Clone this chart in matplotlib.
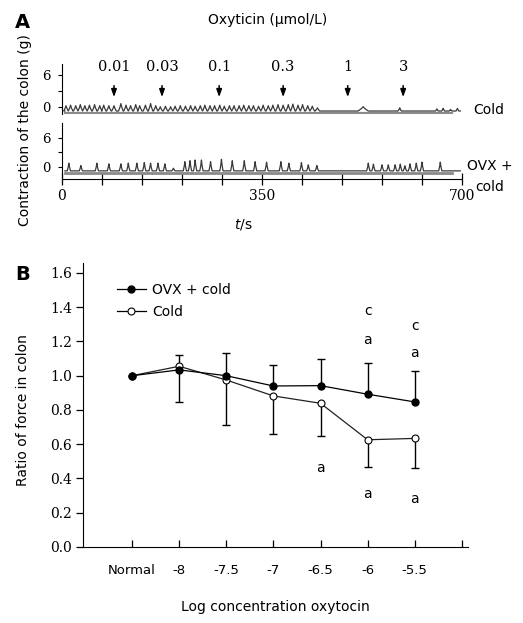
import matplotlib
matplotlib.use("Agg")
import matplotlib.pyplot as plt
import numpy as np
from matplotlib.lines import Line2D

plt.rcParams['font.family'] = ['DejaVu Sans']

# ---------------- data ----------------
# Panel A: trace peaks (time in s, amplitude in g above the trace floor)
conc_labels = ["0.01", "0.03", "0.1", "0.3", "1", "3"]
conc_times = [91, 175, 275, 387, 500, 597]

cold_peak_t = [7, 15, 24, 32, 40, 48, 57, 66, 73, 82, 91, 103, 112, 120, 129, 136, 146, 155, 164, 172,
               181, 190, 198, 207, 216, 225, 233, 242, 250, 259, 267, 276, 284, 293, 301, 310, 318, 327, 335, 344,
               352, 361, 369, 378, 387, 396, 404, 413, 421, 430, 438, 447, 527, 591, 656, 667, 680, 692]
cold_peak_amp = [1.0, 1.1, 1.0, 1.2, 1.0, 1.1, 1.2, 1.0, 1.1, 1.0, 1.0, 1.4, 1.1, 1.0, 1.2, 1.0, 1.1, 1.4, 1.0, 0.8,
                 0.9, 0.8, 0.9, 1.0, 0.9, 1.0, 0.9, 1.0, 1.1, 1.0, 1.0, 1.1, 0.9, 1.0, 1.0, 1.0, 1.1, 1.0, 1.0, 0.9,
                 1.1, 1.0, 1.1, 1.2, 1.1, 1.2, 1.3, 1.1, 1.2, 1.0, 0.9, 0.6, 0.8, 0.6, 0.4, 0.5, 0.3, 0.5]
cold_peak_halfwidth = [4.0] * 52 + [9, 3, 2.5, 2.5, 2.5, 2.5]

ovx_peak_t = [12, 33, 61, 82, 103, 116, 131, 144, 155, 168, 180, 195, 215, 224, 233, 244, 260, 279, 298, 319,
              338, 358, 383, 397, 419, 431, 446, 536, 545, 560, 571, 583, 592, 600, 609, 620, 630, 662]
ovx_peak_amp = [1.6, 1.1, 1.6, 1.45, 1.45, 1.6, 1.6, 1.7, 1.6, 1.6, 1.45, 0.55, 1.9, 2.1, 2.25, 2.25, 1.9, 2.4, 2.1, 2.1,
                1.9, 1.8, 1.9, 1.6, 1.7, 1.25, 1.1, 1.6, 1.4, 1.25, 1.25, 1.25, 1.4, 1.05, 1.45, 1.6, 1.8, 1.8]

trace_start, trace_end = 5, 697
baseline_end = 683
cold_floor, cold_base = -0.75, -1.1
ovx_floor, ovx_base = -0.8, -1.15

# Panel B
categories = ["Normal", "-8", "-7.5", "-7", "-6.5", "-6", "-5.5"]
ovx_cold = [1.0, 1.034, 1.0, 0.94, 0.942, 0.892, 0.847]
ovx_err_up = [0.0, 0.084, 0.13, 0.12, 0.155, 0.18, 0.18]
cold = [1.0, 1.055, 0.975, 0.882, 0.839, 0.626, 0.634]
cold_err_down = [0.0, 0.21, 0.26, 0.224, 0.19, 0.158, 0.17]
# significance letters: (category index, y, letter)
sig_idx = [4, 5, 5, 5, 6, 6, 6]
sig_y = [0.46, 0.31, 1.21, 1.375, 0.28, 1.13, 1.29]
sig_txt = ["a", "a", "a", "c", "a", "a", "c"]

# ---------------- figure ----------------
W, H = 523, 623
fig = plt.figure(figsize=(W / 100, H / 100), dpi=100)


def rect(l, t, r, b):
    return [l / W, 1 - b / H, (r - l) / W, (b - t) / H]


def trace(peaks_t, peaks_a, widths, floor):
    xs, ys = [trace_start], [floor]
    for t, a, w in zip(peaks_t, peaks_a, widths):
        xs += [t - w, t - 0.35 * w, t, t + 0.35 * w, t + w]
        ys += [floor, floor + 0.55 * a, floor + a, floor + 0.55 * a, floor]
    xs.append(trace_end)
    ys.append(floor)
    return xs, ys


serif = 'DejaVu Serif'
trace_col = '#3a3a3a'
base_col = '#8a8a8a'

# Top trace (Cold)
ax1 = fig.add_axes(rect(62, 64, 462, 114))
x, y = trace(cold_peak_t, cold_peak_amp, cold_peak_halfwidth, cold_floor)
ax1.plot([trace_start, baseline_end], [cold_base, cold_base], color=base_col, lw=1.6)
ax1.plot(x, y, color=trace_col, lw=0.9)
ax1.set_xlim(0, 700)
ax1.set_ylim(-1.31, 8.06)
for s in ['top', 'right', 'bottom']:
    ax1.spines[s].set_visible(False)
ax1.set_xticks([])
ax1.set_yticks([0, 3, 6])
ax1.set_yticklabels(['0', '', '6'], fontfamily=serif, fontsize=9.5)
ax1.tick_params(axis='y', direction='out', length=3, pad=5, width=0.8)
for lab, t in zip(conc_labels, conc_times):
    ax1.annotate('', xy=(t, 1.85), xytext=(t, 4.0),
                 arrowprops=dict(arrowstyle='-|>,head_length=0.45,head_width=0.16', color='black',
                                 lw=1.1, shrinkA=0, shrinkB=0))
    ax1.text(t, 7.5, lab, ha='center', va='center', fontfamily=serif, fontsize=10.5)

# Bottom trace (OVX + cold)
ax2 = fig.add_axes(rect(62, 123, 462, 179))
x, y = trace(ovx_peak_t, ovx_peak_amp, [2.8] * len(ovx_peak_t), ovx_floor)
ax2.plot([trace_start, baseline_end], [ovx_base, ovx_base], color=base_col, lw=2.0)
ax2.plot(x, y, color=trace_col, lw=0.9)
ax2.set_xlim(0, 700)
ax2.set_ylim(-2.48, 9.1)
for s in ['top', 'right']:
    ax2.spines[s].set_visible(False)
ax2.set_yticks([0, 3, 6])
ax2.set_yticklabels(['0', '', '6'], fontfamily=serif, fontsize=9.5)
ax2.tick_params(axis='y', direction='out', length=3, pad=5, width=0.8)
ax2.set_xticks(np.arange(0, 701, 70), minor=True)
ax2.set_xticks([0, 350, 700])
ax2.set_xticklabels(['0', '350', '700'], fontfamily=serif, fontsize=10)
ax2.tick_params(axis='x', which='both', direction='inout', length=8, width=0.9, pad=3)

fig.text(22 / W, 1 - 23 / H, 'A', fontsize=14, fontweight='bold', ha='center', va='center')
fig.text(268 / W, 1 - 20 / H, 'Oxyticin (μmol/L)', fontsize=10, ha='center', va='center')
fig.text(25 / W, 1 - 130 / H, 'Contraction of the colon (g)', fontsize=10, rotation=90,
         ha='center', va='center')
fig.text(243 / W, 1 - 224 / H, '$\\it{t}$/s', fontsize=10, ha='center', va='center')
fig.text(473 / W, 1 - 110 / H, 'Cold', fontsize=10, ha='left', va='center')
fig.text(490 / W, 1 - 166 / H, 'OVX +', fontsize=10, ha='center', va='center')
fig.text(490 / W, 1 - 187 / H, 'cold', fontsize=10, ha='center', va='center')

# Panel B
ax3 = fig.add_axes(rect(83, 263, 468, 547))
pos = np.arange(len(categories))
ov = np.array(ovx_cold)
co = np.array(cold)
up = ov + np.array(ovx_err_up)
dn = co - np.array(cold_err_down)
ax3.vlines(pos[1:], ov[1:], up[1:], color='black', lw=1.0, zorder=2)
ax3.vlines(pos[1:], dn[1:], co[1:], color='black', lw=1.0, zorder=2)
ax3.plot(pos[1:], up[1:], ls='none', marker='_', ms=6, mew=1.0, color='black', zorder=2)
ax3.plot(pos[1:], dn[1:], ls='none', marker='_', ms=6, mew=1.0, color='black', zorder=2)
ax3.plot(pos, co, color='#222222', lw=0.9, marker='o', ms=5, mfc='white', mec='black', mew=0.8, zorder=3)
ax3.plot(pos, ov, color='black', lw=0.9, marker='o', ms=5, mfc='black', mec='black', zorder=4)
for i, yy, s in zip(sig_idx, sig_y, sig_txt):
    ax3.text(pos[i], yy, s, ha='center', va='center', fontsize=10)

ax3.set_xlim(-1.04, 7.13)
ax3.set_ylim(0, 1.658)
for s in ['top', 'right']:
    ax3.spines[s].set_visible(False)
ax3.set_xticks(list(pos) + [len(categories)])
ax3.set_xticklabels(categories + [''], fontsize=9.5)
ax3.tick_params(axis='x', direction='in', length=5, pad=12, width=0.9)
ax3.set_yticks(np.arange(0, 1.61, 0.2))
ax3.set_yticklabels([f'{v:.1f}' for v in np.arange(0, 1.61, 0.2)], fontfamily=serif, fontsize=10)
ax3.tick_params(axis='y', direction='out', length=5, pad=3, width=0.9)

handles = [Line2D([], [], color='black', lw=0.9, marker='o', ms=5, mfc='black'),
           Line2D([], [], color='black', lw=0.9, marker='o', ms=5, mfc='white', mew=0.8)]
ax3.legend(handles, ['OVX + cold', 'Cold'], loc='upper left', bbox_to_anchor=(0.088, 0.93),
           frameon=False, borderpad=0, borderaxespad=0, handlelength=2.1, handletextpad=0.45,
           labelspacing=0.58, fontsize=10)

fig.text(23 / W, 1 - 275 / H, 'B', fontsize=14, fontweight='bold', ha='center', va='center')
fig.text(23 / W, 1 - 410 / H, 'Ratio of force in colon', fontsize=10, rotation=90, ha='center', va='center')
fig.text(275 / W, 1 - 607 / H, 'Log concentration oxytocin', fontsize=10, ha='center', va='center')

fig.savefig('out.png', dpi=100)
